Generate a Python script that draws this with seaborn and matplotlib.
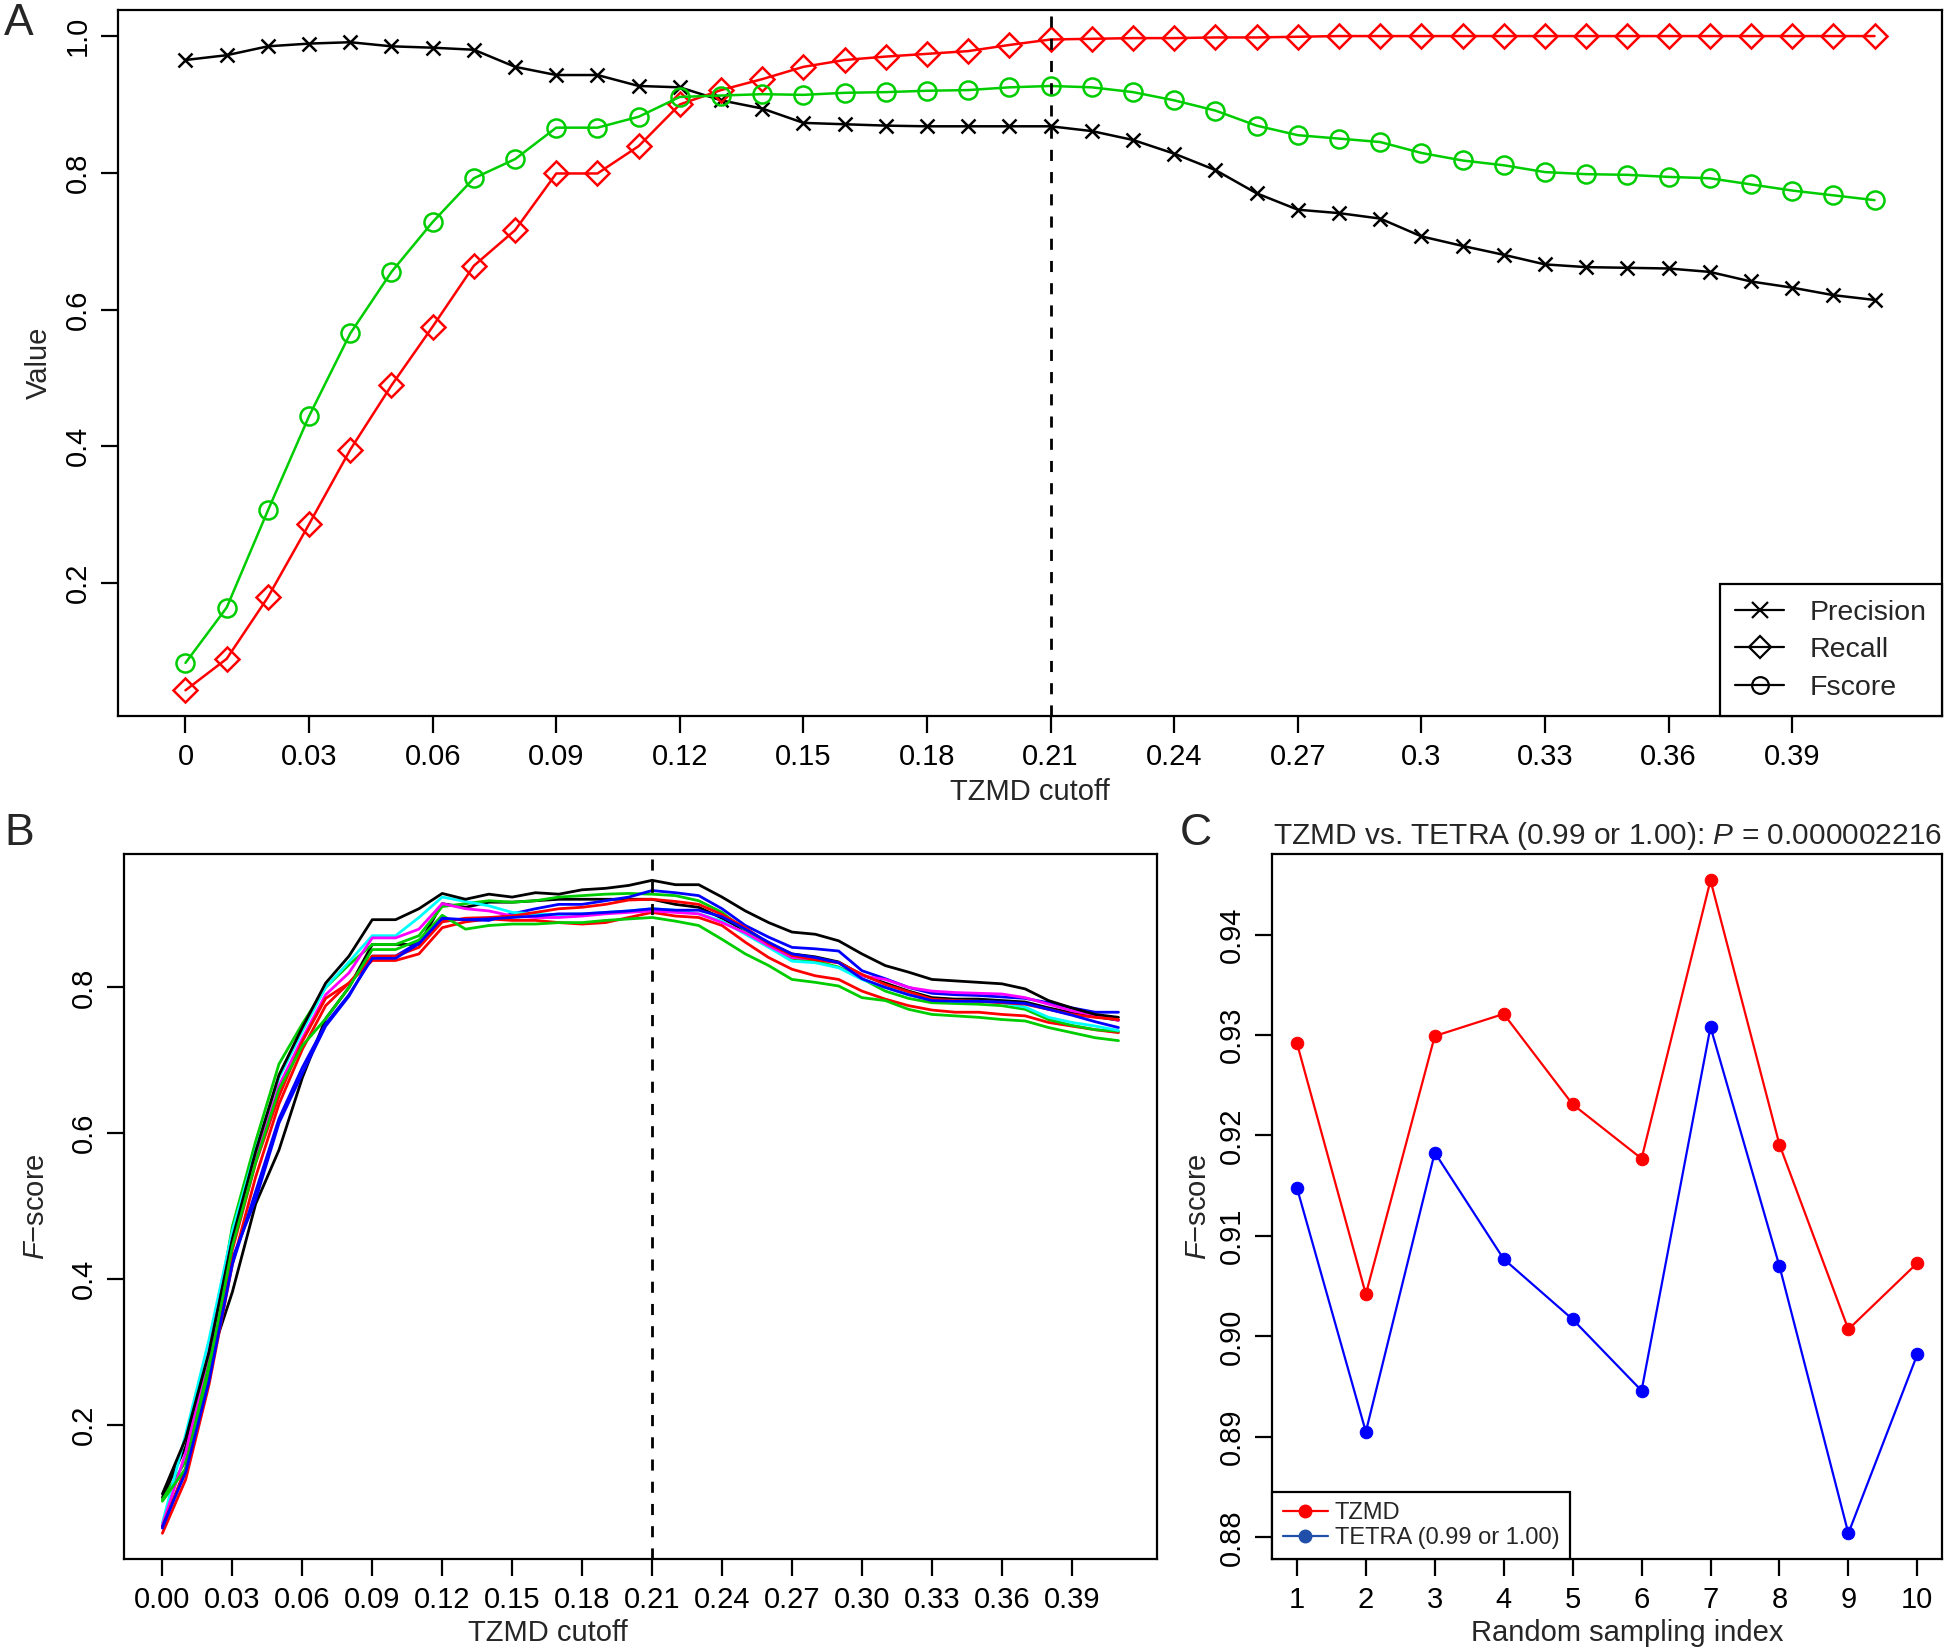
import numpy as np
import pandas as pd
import matplotlib
matplotlib.use("Agg")
import matplotlib.pyplot as plt
from matplotlib.lines import Line2D
import seaborn as sns

# ---- panel A: precision / recall / F-score vs TZMD cutoff ----
cutoff = np.round(np.arange(42) * 0.01, 2)
precision = [0.965, 0.972, 0.985, 0.989, 0.991, 0.985, 0.983, 0.980, 0.955, 0.943,
             0.943, 0.927, 0.925, 0.906, 0.894, 0.873, 0.871, 0.869, 0.868, 0.868,
             0.868, 0.868, 0.861, 0.848, 0.828, 0.804, 0.770, 0.746, 0.741, 0.733,
             0.707, 0.693, 0.680, 0.666, 0.662, 0.661, 0.660, 0.655, 0.641, 0.632,
             0.621, 0.614]
recall = [0.043, 0.089, 0.179, 0.286, 0.395, 0.489, 0.575, 0.664, 0.716, 0.799,
          0.799, 0.839, 0.900, 0.921, 0.937, 0.955, 0.965, 0.970, 0.974, 0.978,
          0.987, 0.995, 0.996, 0.997, 0.997, 0.998, 0.998, 0.999, 1.000, 1.000,
          1.000, 1.000, 1.000, 1.000, 1.000, 1.000, 1.000, 1.000, 1.000, 1.000,
          1.000, 1.000]
fscore = [0.083, 0.164, 0.306, 0.444, 0.565, 0.655, 0.728, 0.792, 0.820, 0.866,
          0.866, 0.882, 0.911, 0.913, 0.915, 0.914, 0.917, 0.918, 0.920, 0.921,
          0.925, 0.927, 0.925, 0.918, 0.906, 0.891, 0.869, 0.855, 0.850, 0.845,
          0.829, 0.818, 0.811, 0.801, 0.798, 0.797, 0.794, 0.792, 0.783, 0.774,
          0.767, 0.760]
best_cutoff = 0.21

# ---- panel B: F-score curves of the 10 random samplings ----
samp1 = [0.100, 0.170, 0.285, 0.382, 0.503, 0.577, 0.676, 0.757, 0.800, 0.859,
         0.859, 0.859, 0.915, 0.910, 0.917, 0.917, 0.919, 0.921, 0.921, 0.921,
         0.921, 0.921, 0.914, 0.910, 0.895, 0.878, 0.860, 0.846, 0.842, 0.835,
         0.817, 0.806, 0.795, 0.786, 0.784, 0.784, 0.782, 0.780, 0.772, 0.765,
         0.760, 0.755]
samp2 = [0.051, 0.125, 0.255, 0.420, 0.540, 0.640, 0.715, 0.775, 0.806, 0.837,
         0.837, 0.846, 0.882, 0.890, 0.894, 0.892, 0.892, 0.889, 0.887, 0.889,
         0.896, 0.903, 0.898, 0.896, 0.885, 0.862, 0.841, 0.825, 0.816, 0.811,
         0.795, 0.784, 0.775, 0.769, 0.766, 0.766, 0.763, 0.761, 0.752, 0.747,
         0.742, 0.738]
samp3 = [0.097, 0.150, 0.290, 0.472, 0.589, 0.695, 0.750, 0.800, 0.831, 0.859,
         0.859, 0.871, 0.911, 0.915, 0.919, 0.917, 0.919, 0.924, 0.926, 0.928,
         0.929, 0.928, 0.926, 0.919, 0.903, 0.878, 0.857, 0.840, 0.836, 0.828,
         0.812, 0.795, 0.785, 0.779, 0.778, 0.777, 0.775, 0.770, 0.756, 0.748,
         0.742, 0.740]
samp4 = [0.058, 0.140, 0.267, 0.428, 0.509, 0.614, 0.682, 0.747, 0.788, 0.843,
         0.843, 0.862, 0.893, 0.893, 0.892, 0.901, 0.908, 0.914, 0.914, 0.919,
         0.924, 0.933, 0.930, 0.926, 0.908, 0.885, 0.869, 0.855, 0.853, 0.850,
         0.823, 0.812, 0.800, 0.792, 0.790, 0.789, 0.787, 0.785, 0.779, 0.772,
         0.766, 0.766]
samp5 = [0.065, 0.187, 0.317, 0.466, 0.577, 0.676, 0.740, 0.800, 0.835, 0.871,
         0.871, 0.896, 0.924, 0.918, 0.912, 0.903, 0.901, 0.900, 0.901, 0.903,
         0.905, 0.908, 0.906, 0.901, 0.891, 0.873, 0.855, 0.836, 0.834, 0.827,
         0.811, 0.800, 0.790, 0.783, 0.781, 0.781, 0.779, 0.773, 0.759, 0.752,
         0.747, 0.741]
samp6 = [0.062, 0.162, 0.300, 0.453, 0.565, 0.665, 0.730, 0.790, 0.820, 0.868,
         0.868, 0.880, 0.915, 0.908, 0.905, 0.898, 0.896, 0.896, 0.898, 0.901,
         0.903, 0.905, 0.903, 0.901, 0.889, 0.875, 0.857, 0.841, 0.839, 0.834,
         0.816, 0.811, 0.800, 0.795, 0.793, 0.792, 0.791, 0.786, 0.777, 0.768,
         0.762, 0.755]
samp7 = [0.105, 0.181, 0.300, 0.455, 0.575, 0.680, 0.745, 0.806, 0.843, 0.893,
         0.893, 0.908, 0.929, 0.921, 0.928, 0.924, 0.930, 0.928, 0.934, 0.936,
         0.940, 0.947, 0.941, 0.941, 0.924, 0.905, 0.889, 0.876, 0.873, 0.864,
         0.846, 0.830, 0.821, 0.811, 0.809, 0.807, 0.805, 0.798, 0.782, 0.772,
         0.763, 0.759]
samp8 = [0.060, 0.140, 0.270, 0.440, 0.559, 0.651, 0.726, 0.785, 0.806, 0.843,
         0.843, 0.855, 0.890, 0.895, 0.896, 0.898, 0.903, 0.908, 0.910, 0.914,
         0.920, 0.921, 0.918, 0.914, 0.900, 0.882, 0.860, 0.844, 0.838, 0.834,
         0.818, 0.804, 0.794, 0.784, 0.782, 0.781, 0.779, 0.777, 0.770, 0.763,
         0.759, 0.756]
samp9 = [0.095, 0.140, 0.275, 0.445, 0.560, 0.660, 0.720, 0.757, 0.800, 0.852,
         0.852, 0.865, 0.899, 0.880, 0.885, 0.887, 0.887, 0.889, 0.889, 0.892,
         0.894, 0.896, 0.891, 0.885, 0.866, 0.846, 0.830, 0.811, 0.807, 0.802,
         0.786, 0.782, 0.770, 0.763, 0.761, 0.759, 0.756, 0.754, 0.745, 0.738,
         0.731, 0.727]
samp10 = [0.060, 0.135, 0.260, 0.420, 0.520, 0.620, 0.690, 0.750, 0.790, 0.840,
          0.840, 0.860, 0.895, 0.893, 0.894, 0.896, 0.898, 0.901, 0.901, 0.903,
          0.905, 0.908, 0.906, 0.906, 0.897, 0.880, 0.862, 0.846, 0.841, 0.834,
          0.812, 0.800, 0.790, 0.782, 0.781, 0.781, 0.780, 0.778, 0.770, 0.762,
          0.753, 0.745]
samples = [samp1, samp2, samp3, samp4, samp5, samp6, samp7, samp8, samp9, samp10]
# R palette 1:6 recycled
samp_colors = ["#000000", "#FF0000", "#00CD00", "#0000FF", "#00FFFF", "#FF00FF",
               "#000000", "#FF0000", "#00CD00", "#0000FF"]

# ---- panel C: TZMD vs TETRA per sampling ----
sampling_idx = [1, 2, 3, 4, 5, 6, 7, 8, 9, 10]
tzmd = [0.9292, 0.9042, 0.9299, 0.9321, 0.9231, 0.9177, 0.9454, 0.9191, 0.9007, 0.9073]
tetra = [0.9148, 0.8905, 0.9183, 0.9077, 0.9017, 0.8946, 0.9308, 0.9070, 0.8804, 0.8982]


def r_lim(vals):
    # R style axis range: data range padded by 4%
    lo, hi = np.min(vals), np.max(vals)
    d = (hi - lo) * 0.04
    return lo - d, hi + d


def style_axes(ax):
    for sp in ax.spines.values():
        sp.set_visible(True)
        sp.set_color("black")
        sp.set_linewidth(1.6)
    ax.tick_params(axis="both", direction="out", length=12, width=1.6,
                   labelsize=21, pad=7, colors="black")
    ax.tick_params(axis="y", labelrotation=90)
    for t in ax.get_yticklabels():
        t.set_va("center")
    ax.grid(False)


sns.set_style("ticks")
plt.rcParams["font.family"] = ["Liberation Sans", "DejaVu Sans"]
plt.rcParams["mathtext.fontset"] = "custom"
plt.rcParams["mathtext.rm"] = "Liberation Sans"
plt.rcParams["mathtext.it"] = "Liberation Sans:italic"

fig = plt.figure(figsize=(19.46, 16.5), dpi=100)
axA = fig.add_axes([0.0606, 0.5658, 0.9374, 0.4282])
axB = fig.add_axes([0.0638, 0.0549, 0.5306, 0.4274])
axC = fig.add_axes([0.6537, 0.0549, 0.3443, 0.4274])

# ---------------- A ----------------
green = "#00CD00"
sns.lineplot(x=cutoff, y=precision, ax=axA, color="black", lw=1.8, marker="x",
             markersize=10, markeredgewidth=1.8, markeredgecolor="black")
sns.lineplot(x=cutoff, y=recall, ax=axA, color="red", lw=1.8, marker="D",
             markersize=12.5, markeredgewidth=1.8, markerfacecolor="none",
             markeredgecolor="red")
sns.lineplot(x=cutoff, y=fscore, ax=axA, color=green, lw=1.8, marker="o",
             markersize=13, markeredgewidth=1.8, markerfacecolor="none",
             markeredgecolor=green)
axA.axvline(best_cutoff, color="black", lw=2, ls=(0, (4, 4)))
axA.set_xlim(r_lim(cutoff))
axA.set_ylim(r_lim(precision + recall + fscore))
axA.set_xticks(cutoff[::3])
axA.set_xticklabels(["0", "0.03", "0.06", "0.09", "0.12", "0.15", "0.18", "0.21",
                     "0.24", "0.27", "0.3", "0.33", "0.36", "0.39"])
axA.set_yticks([0.2, 0.4, 0.6, 0.8, 1.0])
axA.set_yticklabels(["0.2", "0.4", "0.6", "0.8", "1.0"])
style_axes(axA)
axA.set_xlabel("TZMD cutoff", fontsize=21, labelpad=5)
axA.set_ylabel("Value", fontsize=21, labelpad=8)
handles = [
    Line2D([], [], color="black", lw=1.6, marker="x", markersize=11, mew=1.6),
    Line2D([], [], color="black", lw=1.6, marker="D", markersize=11, mew=1.6,
           mfc="none"),
    Line2D([], [], color="black", lw=1.6, marker="o", markersize=12, mew=1.6,
           mfc="none"),
]
legA = axA.legend(handles, ["Precision", "Recall", "Fscore"], loc="lower right",
                  borderaxespad=0, fontsize=20.5, frameon=True, fancybox=False,
                  handlelength=1.7, labelspacing=0.4, borderpad=0.55,
                  handletextpad=0.9)
legA.get_frame().set_edgecolor("black")
legA.get_frame().set_linewidth(1.6)
legA.get_frame().set_alpha(1)

# ---------------- B ----------------
dfB = pd.DataFrame({
    "cutoff": np.tile(cutoff, len(samples)),
    "fscore": np.concatenate(samples),
    "sample": np.repeat([f"s{i + 1}" for i in range(len(samples))], len(cutoff)),
})
sns.lineplot(data=dfB, x="cutoff", y="fscore", hue="sample", palette=samp_colors,
             estimator=None, lw=2.0, legend=False, ax=axB)
axB.axvline(best_cutoff, color="black", lw=2, ls=(0, (4, 4)))
axB.set_xlim(r_lim(cutoff))
axB.set_ylim(r_lim(np.concatenate(samples)))
axB.set_xticks(cutoff[::3])
axB.set_xticklabels([f"{v:.2f}" for v in cutoff[::3]])
axB.set_yticks([0.2, 0.4, 0.6, 0.8])
axB.set_yticklabels(["0.2", "0.4", "0.6", "0.8"])
style_axes(axB)
axB.set_xlabel("TZMD cutoff", fontsize=21, labelpad=2)
axB.xaxis.set_label_coords(0.41, -0.085)
axB.set_ylabel(r"$\mathit{F}$−score", fontsize=21, labelpad=14)

# ---------------- C ----------------
sns.lineplot(x=sampling_idx, y=tzmd, ax=axC, color="red", lw=1.6, marker="o",
             markersize=9, markeredgecolor="red")
sns.lineplot(x=sampling_idx, y=tetra, ax=axC, color="blue", lw=1.6, marker="o",
             markersize=9, markeredgecolor="blue")
axC.set_xlim(r_lim(sampling_idx))
axC.set_ylim(r_lim(tzmd + tetra))
axC.set_xticks(sampling_idx)
axC.set_yticks([0.88, 0.89, 0.90, 0.91, 0.92, 0.93, 0.94])
axC.set_yticklabels(["0.88", "0.89", "0.90", "0.91", "0.92", "0.93", "0.94"])
style_axes(axC)
axC.set_xlabel("Random sampling index", fontsize=21, labelpad=2)
axC.xaxis.set_label_coords(0.53, -0.085)
axC.set_ylabel(r"$\mathit{F}$−score", fontsize=21, labelpad=4)
axC.set_title(r"TZMD vs. TETRA (0.99 or 1.00): $\mathit{P}$ = 0.000002216",
              fontsize=21.5, pad=7)
handlesC = [
    Line2D([], [], color="red", lw=1.6, marker="o", markersize=9),
    Line2D([], [], color="#1f4fa8", lw=1.6, marker="o", markersize=9),
]
legC = axC.legend(handlesC, ["TZMD", "TETRA (0.99 or 1.00)"], loc="lower left",
                  borderaxespad=0, fontsize=17, frameon=True, fancybox=False,
                  handlelength=1.9, labelspacing=0.1, borderpad=0.45,
                  handletextpad=0.3)
legC.get_frame().set_edgecolor("black")
legC.get_frame().set_linewidth(1.6)
legC.get_frame().set_alpha(1)

# panel letters
fig.text(0.002, 0.986, "A", fontsize=32, va="center", ha="left")
fig.text(0.002, 0.495, "B", fontsize=32, va="center", ha="left")
fig.text(0.606, 0.495, "C", fontsize=32, va="center", ha="left")

fig.savefig("out.png", dpi=100)
